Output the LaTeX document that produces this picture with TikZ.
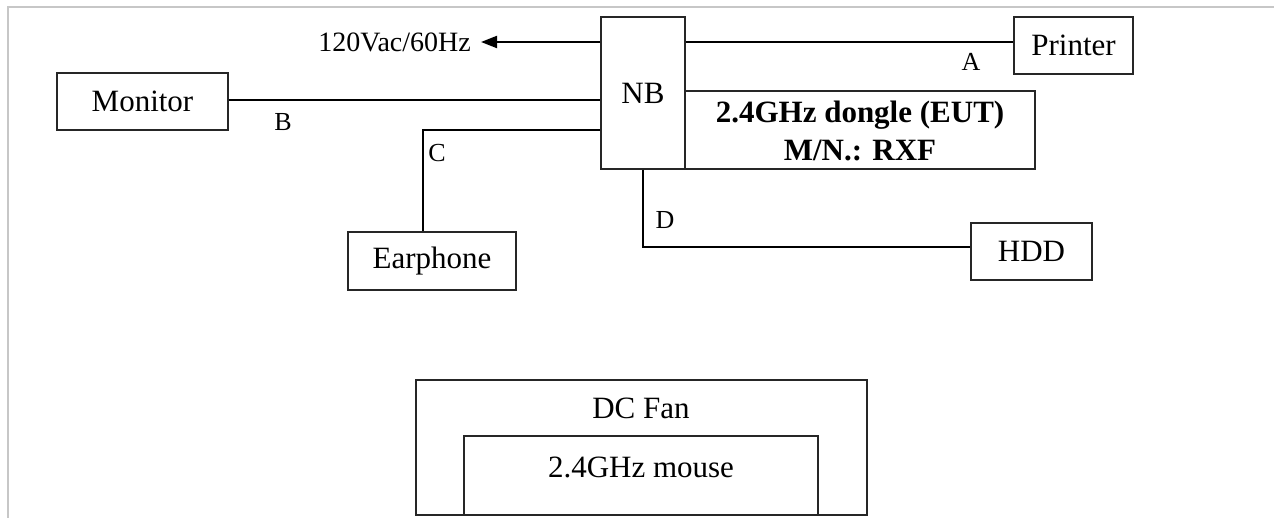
\documentclass[tikz,border=0pt]{standalone}
\usepackage{fontspec}
\setmainfont{Liberation Serif}
\usetikzlibrary{arrows.meta}
\tikzset{
  box/.style={draw=black!85, line width=1.4pt, inner sep=0pt, rectangle},
  wire/.style={draw=black, line width=2pt},
  lbl/.style={inner sep=0pt, font=\fontsize{31}{31}\selectfont},
  tag/.style={inner sep=0pt, font=\fontsize{26}{26}\selectfont},
}
\begin{document}
\begin{tikzpicture}[x=1pt, y=-1pt]
\useasboundingbox (0,0) rectangle (1274,518);
\fill[white] (0,0) rectangle (1274,518);
% page frame
\draw[black!22, line width=2pt] (8,518) -- (8,7) -- (1274,7);

% boxes
\node[box, minimum width=84pt, minimum height=152pt] (nb) at (643,93) {};
\node[lbl] at (643,93) {NB};
\node[box, minimum width=119pt, minimum height=57pt, lbl] (printer) at (1073.5,45.5) {Printer};
\node[box, minimum width=171pt, minimum height=57pt, lbl] (mon) at (142.5,101.5) {Monitor};
\node[box, minimum width=168pt, minimum height=58pt, lbl] (ear) at (432,261) {Earphone};
\node[box, minimum width=121pt, minimum height=57pt, lbl] (hdd) at (1031.5,251.5) {HDD};
\node[box, minimum width=350pt, minimum height=78pt] (dongle) at (860,130) {};
\node[lbl, font=\fontsize{31}{38}\selectfont\bfseries, align=center] (dtext) at (860,131)
  {2.4GHz dongle (EUT)\\M/N.: RXF};

\node[box, minimum width=451pt, minimum height=135pt] (fan) at (641.5,447.5) {};
\node[lbl] (fantext) at (641,408) {DC Fan};
\node[box, minimum width=354pt, minimum height=79pt] (mouse) at (641,475.5) {};
\node[lbl] (mousetext) at (641,467) {2.4GHz mouse};

% power
\node[lbl, font=\fontsize{28}{28}\selectfont, anchor=east] (vac) at (471,42) {120Vac/60Hz};
\coordinate (vtip) at (481,42);
\draw[wire, -{Triangle[length=16pt,width=12pt]}] (nb.west |- vtip) -- (vtip);

% connectors
\draw[wire] (nb.east |- vtip) -- (printer.west |- vtip);
\draw[wire] (mon.east |- 0,100) -- (nb.west |- 0,100);
\draw[wire] (nb.west |- 0,130) -| ([xshift=-9pt]ear.north);
\coordinate (dcorner) at (643,247);
\draw[wire] (nb.south) -- (dcorner) -- (hdd.west |- dcorner);

% cable labels
\node[tag] (la) at (971,62) {A};
\node[tag] (lb) at (283,122) {B};
\node[tag] (lc) at (437,153) {C};
\node[tag] (ld) at (665,220) {D};
\end{tikzpicture}
\end{document}
